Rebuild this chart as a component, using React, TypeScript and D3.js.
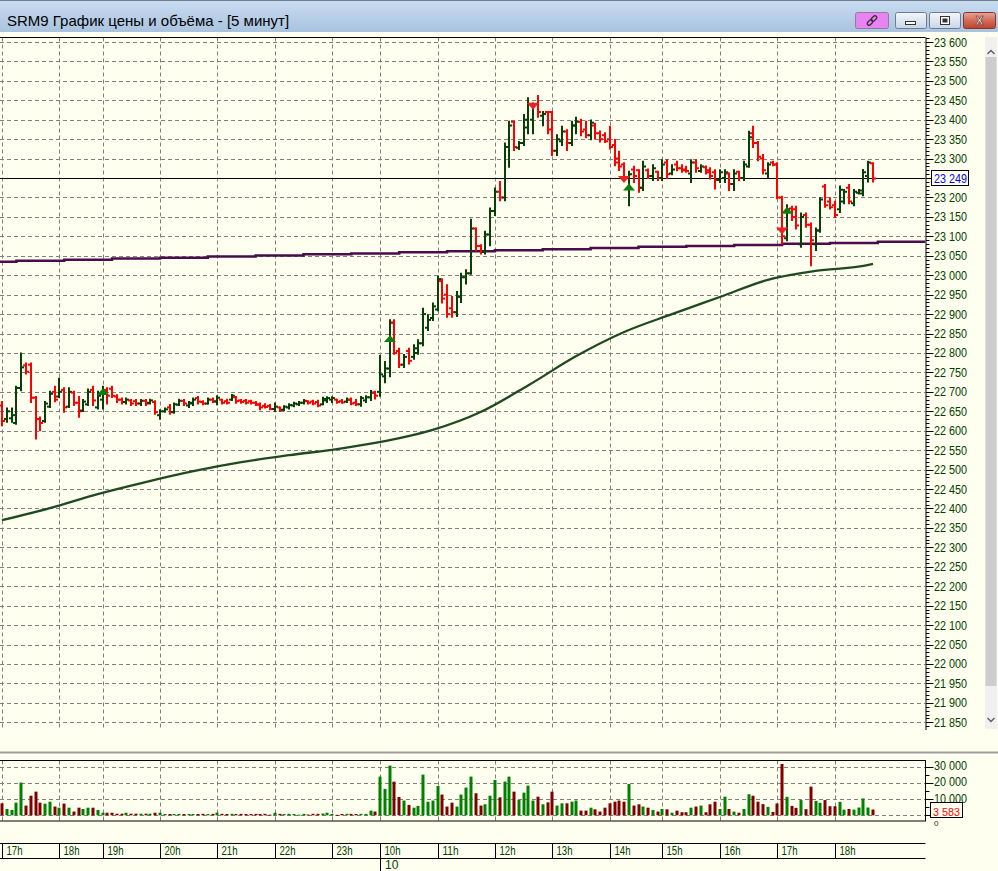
import React from "react";
import * as d3 from "d3";

// ---------- DATA ----------
const title = "SRM9 График цены и объёма - [5 минут]";
const hourLabels = ["17h","18h","19h","20h","21h","22h","23h","10h","11h","12h","13h","14h","15h","16h","17h","18h"];
const hourStarts = [0,12,21,33,45,57,69,79,91,103,115,127,138,150,162,174];
const dayLabel = "10";
const dayStart = 79;

// OHLC of 5-minute bars: [open, high, low, close]
const bars: [number, number, number, number][] = [
  [22665,22674,22614,22625],[22630,22657,22623,22650],[22632,22657,22623,22640],[22620,22713,22618,22710],
  [22710,22799,22704,22763],[22768,22773,22747,22752],[22770,22773,22674,22685],[22685,22687,22580,22630],
  [22630,22634,22601,22620],[22625,22674,22623,22670],[22662,22700,22661,22695],[22700,22713,22676,22680],
  [22688,22734,22687,22700],[22705,22709,22649,22660],[22662,22709,22661,22700],[22698,22700,22666,22672],
  [22672,22687,22636,22650],[22652,22679,22651,22675],[22668,22706,22666,22700],[22705,22713,22666,22678],
  [22660,22700,22657,22690],[22680,22713,22657,22700],[22705,22709,22670,22690],[22708,22713,22687,22690],
  [22688,22691,22674,22680],[22680,22683,22670,22674],[22674,22683,22670,22680],[22678,22679,22666,22670],
  [22676,22679,22666,22670],[22670,22679,22666,22677],[22677,22679,22666,22670],[22672,22680,22670,22678],
  [22674,22676,22644,22648],[22640,22653,22631,22650],[22650,22657,22649,22655],[22660,22666,22644,22648],
  [22648,22670,22646,22668],[22667,22680,22666,22677],[22677,22679,22666,22670],[22665,22674,22661,22672],
  [22670,22683,22666,22680],[22684,22687,22670,22675],[22674,22676,22668,22670],[22670,22683,22670,22680],
  [22680,22683,22674,22676],[22675,22689,22668,22685],[22680,22680,22670,22672],[22676,22680,22670,22672],
  [22680,22692,22679,22690],[22686,22687,22672,22676],[22678,22679,22672,22674],[22677,22679,22670,22672],
  [22676,22677,22670,22672],[22672,22674,22666,22667],[22668,22670,22655,22660],[22664,22668,22660,22661],
  [22664,22666,22655,22656],[22656,22670,22651,22662],[22660,22660,22651,22654],[22654,22663,22653,22662],
  [22660,22668,22657,22666],[22665,22672,22663,22670],[22668,22674,22666,22672],[22672,22679,22670,22677],
  [22676,22676,22670,22672],[22675,22677,22668,22670],[22674,22677,22663,22665],[22668,22685,22668,22682],
  [22678,22686,22674,22684],[22680,22686,22674,22684],[22680,22680,22672,22674],[22676,22679,22672,22673],
  [22675,22683,22674,22680],[22680,22683,22668,22670],[22672,22679,22666,22668],[22668,22687,22664,22684],
  [22678,22689,22674,22686],[22686,22702,22679,22698],[22698,22700,22683,22690],
  [22700,22792,22690,22745],[22740,22777,22725,22760],[22760,22884,22740,22878],[22878,22884,22798,22800],
  [22805,22811,22764,22770],[22770,22795,22764,22790],[22805,22811,22773,22780],[22790,22820,22785,22812],
  [22800,22833,22798,22825],[22825,22914,22820,22900],[22865,22897,22859,22885],[22890,22927,22885,22920],
  [22912,22996,22910,22990],[22985,22990,22930,22940],[22950,22974,22893,22900],[22915,22944,22893,22905],
  [22905,22957,22895,22945],[22945,23004,22931,22995],[22995,23013,22979,23005],[23005,23143,23004,23120],
  [23120,23120,23064,23075],[23075,23077,23056,23060],[23060,23112,23056,23105],[23105,23172,23077,23165],
  [23165,23223,23155,23215],[23215,23240,23193,23200],[23200,23339,23193,23330],[23330,23395,23279,23385],
  [23395,23395,23322,23330],[23328,23343,23325,23340],[23340,23412,23335,23400],[23380,23455,23365,23440],
  [23400,23442,23365,23440],[23440,23461,23408,23420],[23410,23420,23386,23415],[23420,23420,23365,23375],
  [23420,23420,23309,23320],[23320,23360,23309,23350],[23345,23382,23335,23370],[23370,23373,23322,23340],
  [23340,23395,23335,23385],[23385,23405,23365,23395],[23395,23400,23360,23370],[23375,23395,23355,23360],
  [23360,23398,23350,23392],[23385,23390,23352,23365],[23365,23370,23344,23350],[23360,23365,23343,23345],
  [23350,23382,23326,23330],[23335,23348,23283,23290],[23300,23318,23271,23280],[23285,23288,23245,23250],
  [23250,23266,23180,23260],[23272,23279,23240,23255],[23270,23270,23215,23225],[23225,23292,23219,23280],
  [23270,23272,23250,23255],[23255,23283,23245,23275],[23266,23266,23245,23250],[23250,23296,23245,23285],
  [23290,23296,23250,23260],[23262,23283,23260,23272],[23285,23292,23270,23275],[23275,23283,23266,23270],
  [23272,23279,23266,23268],[23262,23296,23240,23290],[23290,23296,23266,23275],[23268,23283,23266,23280],
  [23278,23280,23262,23265],[23270,23275,23249,23255],[23265,23270,23223,23245],[23245,23270,23240,23265],
  [23250,23270,23240,23265],[23262,23262,23219,23235],[23235,23270,23219,23262],[23266,23266,23245,23250],
  [23250,23292,23245,23285],[23280,23369,23279,23355],[23365,23382,23330,23340],[23340,23343,23296,23305],
  [23300,23309,23262,23270],[23262,23288,23253,23285],[23290,23292,23283,23285],[23285,23288,23198,23200],
  [23200,23202,23082,23100],[23095,23180,23090,23170],[23172,23176,23142,23150],[23170,23176,23120,23128],
  [23080,23159,23073,23150],[23155,23159,23125,23130],[23130,23133,23026,23090],[23080,23120,23065,23115],
  [23115,23198,23112,23195],[23228,23232,23176,23180],[23190,23198,23172,23175],[23180,23189,23150,23155],
  [23170,23228,23163,23220],[23190,23219,23185,23215],[23225,23232,23185,23190],[23185,23219,23180,23215],
  [23212,23219,23210,23218],[23210,23271,23206,23265],[23255,23292,23241,23290],[23288,23288,23241,23249],
];

const volumes = [
  7400,3900,3300,7800,20200,6000,12100,14600,7800,7200,8400,5400,4700,7200,4700,2300,4700,3900,4700,4700,3300,1600,
  1600,1600,1000,1000,1600,1000,1000,1000,1000,1000,1600,1600,800,800,800,800,800,800,800,800,
  900,800,900,1700,900,800,900,800,900,800,800,900,800,900,400,1600,900,800,900,800,400,900,500,900,900,1100,1600,
  800,300,800,900,900,800,900,900,2900,2300,
  23900,16300,30700,20800,11300,9100,6400,4700,5800,25100,8400,9100,18100,12800,5400,7800,5400,12800,17100,23900,
  13600,6000,6800,12100,21800,
  11100,20800,23900,14600,9500,14000,18300,9100,11500,6800,8000,14600,6000,7400,7400,8400,9100,2900,2900,4700,
  3700,2300,4700,7400,8400,9100,8400,19300,6000,6800,5400,4700,3300,2300,3900,3700,1600,2900,1900,1900,
  4700,5400,6000,1900,6800,8400,3900,11500,3900,2300,1600,3900,13000,12100,8400,
  6900,5200,2100,7300,31700,11400,5800,4600,9400,3800,17700,8900,7700,9400,5600,5600,8300,3500,3900,3500,
  4800,10400,4800,3583,
];

// long moving average (dark green) sampled at bar indices
const greenMA: [number, number][] = [
  [0,22370],[10,22401],[20,22437],[30,22468],[40,22496],[50,22519],[60,22537],[70,22553],[80,22573],
  [90,22602],[100,22648],[110,22717],[120,22792],[130,22854],[140,22900],[150,22944],[160,22988],
  [170,23011],[180,23024],[182,23029],
];

// stepped moving average (purple): value per 10-bar step
const purpleStepStarts = [-7,3,13,23,33,43,53,63,73,83,93,103,113,123,133,143,153,163,173,183];
const purpleValues = [23035,23037,23040,23043,23045,23048,23051,23054,23056,23059,23062,23064,23067,23070,23073,23075,23078,23081,23083,23086];
const purpleEnd = 193;

const signals: { i: number; kind: "buy" | "sell"; price: number }[] = [
  { i: 21, kind: "buy", price: 22710 },
  { i: 81, kind: "buy", price: 22846 },
  { i: 111, kind: "sell", price: 23444 },
  { i: 130, kind: "sell", price: 23255 },
  { i: 131, kind: "buy", price: 23236 },
  { i: 163, kind: "sell", price: 23123 },
  { i: 164, kind: "buy", price: 23176 },
];

const currentPrice = 23249;
const currentVolume = 3583;
const priceMin = 21850;
const priceMax = 23600;
const priceStep = 50;
const volumeMax = 30000;
const volumeLabels = [10000, 20000, 30000];
const volumeZeroLabel = 0;

// ---------- STYLE ----------
const IVORY = "#fffff0";
const UP = "#083f08";
const DOWN = "#ff0000";
const VUP = "#008000";
const VDOWN = "#800000";
const GRID = "#808080";
const AXIS_TXT = "#004000";
const FONT = "'Liberation Sans', Arial, sans-serif";

const fmt = (v: number) => d3.format(",")(v).replace(/,/g, " ");

export default function App() {
  const W = 998, H = 871;
  const panelRight = 925.5;
  const priceTop = 37.5, priceBottom = 730;
  const volTop = 760.5, volBottom = 821;
  const timeTop = 843.5, timeBottom = 858.5;

  const x = d3.scaleLinear().domain([0, bars.length - 1]).range([2, 873]);
  const y = d3.scaleLinear().domain([priceMin, priceMax]).range([722.3, 42]);
  const yv = d3.scaleLinear().domain([0, volumeMax]).range([815.3, 766.7]);

  const priceTicks = d3.range(priceMin, priceMax + 1, priceStep);
  const minorTicks = d3.range(21830, 23611, 10).filter((v) => y(v) >= priceTop && y(v) <= priceBottom);
  const volMinor = d3.range(0, volumeMax + 1, 5000);
  const volGrid = [0, ...volumeLabels];

  const maLine = d3.line<[number, number]>().x((d) => x(d[0])).y((d) => y(d[1])).curve(d3.curveMonotoneX);
  const purplePts: [number, number][] = purpleStepStarts.map((s, k) => [s, purpleValues[k]]);
  purplePts.push([purpleEnd, purpleValues[purpleValues.length - 1]]);
  const purpleLine = d3.line<[number, number]>().x((d) => x(d[0])).y((d) => y(d[1])).curve(d3.curveStepAfter);

  const sepX = hourStarts.map((s) => Math.round(x(s)) + 0.5);

  return (
    <svg width={W} height={H} viewBox={`0 0 ${W} ${H}`} style={{ position: "absolute", left: 0, top: 0, display: "block" }} fontFamily={FONT}>
      <defs>
        <linearGradient id="tb" x1="0" y1="0" x2="0" y2="1">
          <stop offset="0" stopColor="#cadcf0" />
          <stop offset="1" stopColor="#a9c3e0" />
        </linearGradient>
        <linearGradient id="btn" x1="0" y1="0" x2="0" y2="1">
          <stop offset="0" stopColor="#f4f7fb" />
          <stop offset="1" stopColor="#c8d5e6" />
        </linearGradient>
        <linearGradient id="cls" x1="0" y1="0" x2="0" y2="1">
          <stop offset="0" stopColor="#e9a595" />
          <stop offset="0.5" stopColor="#d26c58" />
          <stop offset="1" stopColor="#c0412c" />
        </linearGradient>
        <clipPath id="pclip"><rect x={0} y={priceTop} width={panelRight} height={priceBottom - priceTop} /></clipPath>
        <clipPath id="vclip"><rect x={0} y={volTop} width={panelRight} height={volBottom - volTop} /></clipPath>
      </defs>

      {/* background */}
      <rect x={0} y={0} width={W} height={H} fill={IVORY} />

      {/* title bar */}
      <rect x={0} y={0} width={W} height={32} fill="url(#tb)" />
      <line x1={0} x2={W} y1={0.5} y2={0.5} stroke="#6e7d90" />
      <text x={7} y={26} fontSize={15} fill="#000">{title}</text>
      {/* buttons */}
      <rect x={855.5} y={12.5} width={33} height={16} rx={2} fill="#e884f2" stroke="#8a7f95" />
      <g transform="translate(872,20.5) rotate(-45)" fill="none" stroke="#3a2a3a" strokeWidth={1.3}>
        <rect x={-6} y={-1.8} width={6.5} height={3.6} rx={1.8} />
        <rect x={-0.5} y={-1.8} width={6.5} height={3.6} rx={1.8} />
      </g>
      <rect x={895.5} y={12.5} width={31} height={16} rx={2} fill="url(#btn)" stroke="#6f7c8e" />
      <rect x={905.5} y={21.5} width={10} height={3} fill="#fff" stroke="#333" />
      <rect x={929.5} y={12.5} width={31} height={16} rx={2} fill="url(#btn)" stroke="#6f7c8e" />
      <rect x={940.5} y={16.5} width={9} height={8} fill="#fff" stroke="#333" />
      <rect x={942.5} y={18.5} width={5} height={4} fill="#333" />
      <rect x={963.5} y={12.5} width={32} height={16} rx={2} fill="url(#cls)" stroke="#7a3a30" />
      <text x={979.5} y={25} fontSize={12} fontWeight="bold" textAnchor="middle" fill="#fff" stroke="#5a2a20" strokeWidth={0.6}>X</text>

      {/* ---------- PRICE PANEL ---------- */}
      <g clipPath="url(#pclip)">
        {priceTicks.map((v) => (
          <line key={"hg" + v} x1={0} x2={panelRight} y1={Math.round(y(v)) + 0.5} y2={Math.round(y(v)) + 0.5} stroke={GRID} strokeDasharray="4,3" />
        ))}
        {sepX.map((sx, k) => (
          <line key={"vg" + k} x1={sx} x2={sx} y1={priceTop} y2={priceBottom} stroke={GRID} strokeDasharray="4,3" />
        ))}
        <path d={purpleLine(purplePts) || ""} fill="none" stroke="#4b0c4b" strokeWidth={2.5} />
        <path d={maLine(greenMA) || ""} fill="none" stroke="#1f4a1f" strokeWidth={2.3} />
        <line x1={0} x2={panelRight} y1={Math.round(y(currentPrice)) + 0.5} y2={Math.round(y(currentPrice)) + 0.5} stroke="#000" />
        {bars.map((b, i) => {
          const [o, h, l, c] = b;
          const cx = Math.round(x(i));
          const col = c >= o ? UP : DOWN;
          return (
            <g key={"b" + i} stroke={col} strokeWidth={2}>
              <line x1={cx} x2={cx} y1={y(h) - 1} y2={y(l) + 1} />
              <line x1={cx - 3} x2={cx} y1={y(o)} y2={y(o)} />
              <line x1={cx} x2={cx + 3} y1={y(c)} y2={y(c)} />
            </g>
          );
        })}
        {signals.map((s, k) => {
          const cx = Math.round(x(s.i));
          const py = y(s.price);
          const d = s.kind === "buy"
            ? `M${cx},${py} L${cx - 6},${py + 7} L${cx + 6},${py + 7} Z`
            : `M${cx - 6},${py} L${cx + 6},${py} L${cx},${py + 7} Z`;
          return <path key={"s" + k} d={d} fill={s.kind === "buy" ? "#0a800a" : "#f02020"} />;
        })}
      </g>
      <line x1={0} x2={panelRight} y1={priceTop} y2={priceTop} stroke="#000" />
      <line x1={panelRight + 0.5} x2={panelRight + 0.5} y1={priceTop} y2={priceBottom} stroke="#000" />
      {minorTicks.map((v) => (
        <line key={"mt" + v} x1={panelRight + 0.5} x2={panelRight + 4} y1={Math.round(y(v)) + 0.5} y2={Math.round(y(v)) + 0.5} stroke="#000" />
      ))}
      {priceTicks.map((v) => (
        <g key={"pl" + v}>
          <line x1={panelRight + 0.5} x2={panelRight + 8} y1={Math.round(y(v)) + 0.5} y2={Math.round(y(v)) + 0.5} stroke="#000" />
          {v !== 23250 && (
            <text x={934} y={y(v) + 4.5} fontSize={12.5} fill={AXIS_TXT} textLength={33} lengthAdjust="spacingAndGlyphs">{fmt(v)}</text>
          )}
        </g>
      ))}
      <rect x={931.5} y={Math.round(y(currentPrice)) - 7.5} width={37} height={15} fill={IVORY} stroke="#000" />
      <text x={934} y={y(currentPrice) + 5} fontSize={12.5} fill="#0000ff" textLength={33} lengthAdjust="spacingAndGlyphs">{fmt(currentPrice)}</text>

      {/* scrollbar */}
      <rect x={985} y={37} width={12} height={692} fill="#f0f0f0" />
      <rect x={985.5} y={57} width={11} height={629} fill="#cdcdcd" />
      <path d="M987.5,54 L991,50.5 L994.5,54" fill="none" stroke="#606060" strokeWidth={1.5} />
      <path d="M987.5,718 L991,721.5 L994.5,718" fill="none" stroke="#606060" strokeWidth={1.5} />

      {/* splitter */}
      <line x1={0} x2={W} y1={752.5} y2={752.5} stroke="#a0a0a0" strokeWidth={2} />

      {/* ---------- VOLUME PANEL ---------- */}
      <g clipPath="url(#vclip)">
        {volGrid.map((v) => (
          <line key={"vh" + v} x1={0} x2={panelRight} y1={Math.round(yv(v)) + 0.5} y2={Math.round(yv(v)) + 0.5} stroke={GRID} strokeDasharray="4,3" />
        ))}
        {sepX.map((sx, k) => (
          <line key={"vv" + k} x1={sx} x2={sx} y1={volTop} y2={volBottom} stroke={GRID} strokeDasharray="4,3" />
        ))}
        {volumes.map((v, i) => {
          const b = bars[i];
          const col = b[3] >= b[0] ? VUP : VDOWN;
          const cx = Math.round(x(i));
          return <rect key={"v" + i} x={cx - 1.5} y={yv(v)} width={3} height={Math.max(1, yv(0) - yv(v))} fill={col} />;
        })}
      </g>
      <rect x={-1} y={volTop} width={panelRight + 1} height={volBottom - volTop} fill="none" stroke="#000" />
      {volMinor.map((v) => (
        <line key={"vm" + v} x1={panelRight + 0.5} x2={panelRight + 4} y1={Math.round(yv(v)) + 0.5} y2={Math.round(yv(v)) + 0.5} stroke="#000" />
      ))}
      {volumeLabels.map((v) => (
        <g key={"vl" + v}>
          <line x1={panelRight + 0.5} x2={panelRight + 8} y1={Math.round(yv(v)) + 0.5} y2={Math.round(yv(v)) + 0.5} stroke="#000" />
          <text x={934} y={yv(v) + 3.5} fontSize={12.5} fill={AXIS_TXT} textLength={33} lengthAdjust="spacingAndGlyphs">{fmt(v)}</text>
        </g>
      ))}
      <line x1={panelRight + 0.5} x2={panelRight + 8} y1={Math.round(yv(0)) + 0.5} y2={Math.round(yv(0)) + 0.5} stroke="#000" />
      <rect x={930.5} y={802.5} width={32} height={15} fill={IVORY} stroke="#000" />
      <text x={933} y={816} fontSize={11.5} fill="#ff0000" textLength={27} lengthAdjust="spacingAndGlyphs">{fmt(currentVolume)}</text>
      <text x={934} y={826} fontSize={8} fill={AXIS_TXT}>{fmt(volumeZeroLabel)}</text>

      {/* ---------- TIME AXIS ---------- */}
      <line x1={0} x2={panelRight} y1={timeTop} y2={timeTop} stroke="#000" />
      <line x1={0} x2={panelRight} y1={timeBottom} y2={timeBottom} stroke="#000" />
      {sepX.map((sx, k) => (
        <g key={"t" + k}>
          <line x1={sx} x2={sx} y1={timeTop} y2={timeBottom} stroke="#000" />
          <text x={sx + 4} y={855} fontSize={12} fill={AXIS_TXT} textLength={16} lengthAdjust="spacingAndGlyphs">{hourLabels[k]}</text>
        </g>
      ))}
      <line x1={Math.round(x(dayStart)) + 0.5} x2={Math.round(x(dayStart)) + 0.5} y1={timeBottom} y2={H} stroke="#000" />
      <text x={Math.round(x(dayStart)) + 5} y={869} fontSize={12} fill={AXIS_TXT}>{dayLabel}</text>
    </svg>
  );
}
